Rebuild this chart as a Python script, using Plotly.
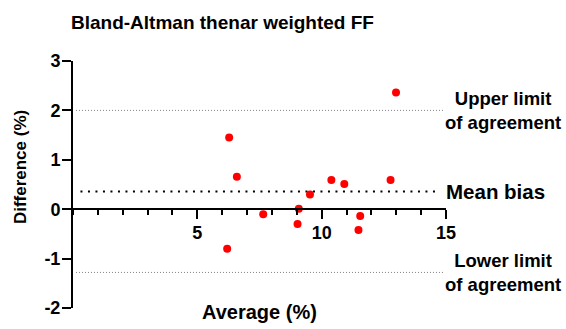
import plotly.graph_objects as go

# Data
avg_values = [12.99, 6.28, 6.59, 10.39, 10.91, 12.77, 9.53, 9.08, 7.65, 11.55, 9.03, 11.48, 6.20]
diff_values = [2.36, 1.45, 0.655, 0.59, 0.51, 0.59, 0.30, 0.01, -0.10, -0.14, -0.30, -0.42, -0.80]
mean_bias = 0.36
upper_loa = 2.0
lower_loa = -1.28

x_tickvals = [5, 10, 15]
x_ticktext = ["5", "10", "15"]
y_tickvals = [-2, -1, 0, 1, 2, 3]
y_ticktext = ["-2", "-1", "0", "1", "2", "3"]

FONT = "Liberation Sans, Arial, sans-serif"

fig = go.Figure()
fig.add_trace(go.Scatter(
    x=avg_values, y=diff_values, mode="markers",
    marker=dict(color="#ff0000", size=8, line=dict(width=0)),
    showlegend=False, cliponaxis=False, hoverinfo="skip",
))

# limit lines
fig.add_shape(type="line", xref="x", yref="y", x0=0.12, x1=14.88, y0=upper_loa, y1=upper_loa,
              line=dict(color="#808080", width=1, dash="1px,2px"), layer="below")
fig.add_shape(type="line", xref="x", yref="y", x0=0.12, x1=14.88, y0=lower_loa, y1=lower_loa,
              line=dict(color="#808080", width=1, dash="1px,2px"), layer="below")
fig.add_shape(type="line", xref="x", yref="y", x0=0.3, x1=14.75, y0=mean_bias, y1=mean_bias,
              line=dict(color="black", width=2, dash="2px,5.5px"), layer="below")

lab_font = dict(family=FONT, size=18.5, color="black", weight="bold")
fig.add_annotation(x=(503 - 73) / 373, y=upper_loa, xref="paper", yref="y", text="Upper limit<br>of agreement",
                   showarrow=False, align="center", xanchor="center", yanchor="middle", font=lab_font)
fig.add_annotation(x=(503 - 73) / 373, y=lower_loa, xref="paper", yref="y", text="Lower limit<br>of agreement",
                   showarrow=False, align="center", xanchor="center", yanchor="middle", font=lab_font)
fig.add_annotation(x=15.0, y=mean_bias, xref="x", yref="y", text="Mean bias", xshift=-2,
                   showarrow=False, align="left", xanchor="left", yanchor="middle",
                   font=dict(family=FONT, size=20.5, color="black", weight="bold"))

# axis titles
fig.add_annotation(x=0.5, y=-0.016, xref="paper", yref="paper", text="Average (%)",
                   showarrow=False, xanchor="center", yanchor="middle",
                   font=dict(family=FONT, size=20, color="black", weight="bold"))
fig.add_annotation(x=-0.139, y=0.571, xref="paper", yref="paper", text="Difference (%)",
                   showarrow=False, xanchor="center", yanchor="middle", textangle=-90,
                   font=dict(family=FONT, size=17, color="black", weight="bold"))

tick_font = dict(family=FONT, size=18, color="black", weight="bold")

fig.update_layout(
    width=566, height=329,
    margin=dict(l=73, r=120, t=61, b=21, pad=0),
    paper_bgcolor="white", plot_bgcolor="white",
    hovermode=False,
    title=dict(text="Bland-Altman thenar weighted FF", x=222.5 / 566, xref="container", xanchor="center",
               y=1 - 22 / 329, yref="container", yanchor="middle",
               font=dict(family=FONT, size=19, color="black", weight="bold")),
    xaxis=dict(range=[0, 15], domain=[0, 1], anchor="free", position=0.4,
               showline=True, linecolor="black", linewidth=2,
               showgrid=False, zeroline=False,
               ticks="outside", ticklen=9, tickwidth=2, tickcolor="black",
               tickvals=x_tickvals, ticktext=x_ticktext, tickfont=tick_font, ticklabelstandoff=-2,
               minor=dict(dtick=1, tick0=0, ticks="outside", ticklen=5, tickwidth=2, tickcolor="black", showgrid=False)),
    yaxis=dict(range=[-2, 3], domain=[0, 1],
               showline=True, linecolor="black", linewidth=2,
               showgrid=False, zeroline=False,
               ticks="outside", ticklen=9, tickwidth=2, tickcolor="black",
               tickvals=y_tickvals, ticktext=y_ticktext, tickfont=tick_font, ticklabelstandoff=-2),
)

fig.write_html("out.html", config={"displayModeBar": False, "staticPlot": True},
               post_script="document.body.style.margin='0';document.body.style.overflow='hidden';")
